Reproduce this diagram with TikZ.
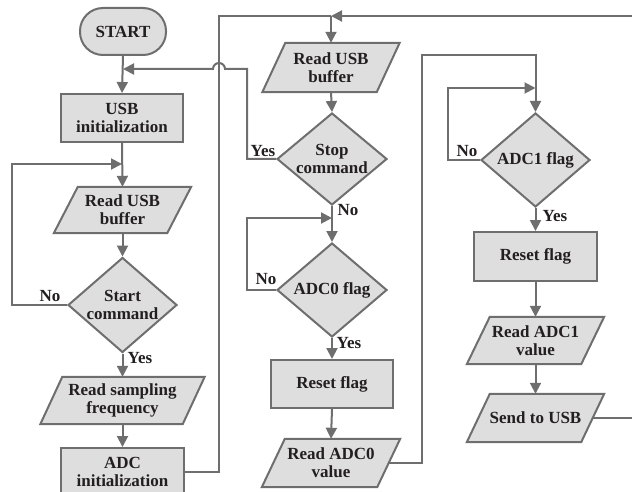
\documentclass[tikz,border=0pt]{standalone}
\usepackage{fontspec}
\setmainfont{Liberation Serif}
\newfontfamily\figfont{Liberation Serif}[BoldFont={Liberation Serif Bold}]
\usetikzlibrary{arrows.meta,shapes.geometric,backgrounds}
\definecolor{lc}{HTML}{6E6E6E}
\definecolor{fc}{HTML}{DEDEDE}
\definecolor{tc}{HTML}{231F20}
\newcommand\iopara[2]{%
  \draw[shapeline] ([xshift=#2]#1.north west) -- ([xshift=#2]#1.north east)
    -- ([xshift=-#2]#1.south east) -- ([xshift=-#2]#1.south west) -- cycle;}
\tikzset{
  txt/.style={font=\figfont\fontsize{17}{18}\selectfont\bfseries, text=tc, align=center},
  shapeline/.style={draw=lc, fill=fc, line width=2pt, line join=miter},
  procbox/.style={txt, rectangle, shapeline, inner sep=0pt},
  termbox/.style={txt, rectangle, rounded corners=23pt, shapeline, inner sep=0pt},
  iobox/.style={txt, rectangle, inner sep=0pt},
  decbox/.style={txt, diamond, shapeline, inner sep=0pt, aspect=1.15},
  conn/.style={draw=lc, line width=2pt},
  arr/.style={conn, -{Triangle[length=11pt,width=11pt]}},
  lab/.style={txt}
}
\begin{document}
\begin{tikzpicture}[x=1pt,y=-1pt]
\useasboundingbox (0,0) rectangle (632,492);
\clip (0,0) rectangle (632,492);
% column 1
\node[termbox, minimum width=86pt, minimum height=47pt] (start) at (123,31.5) {START};
\node[procbox, minimum width=122pt, minimum height=48pt] (usbinit) at (122,118) {USB\\initialization};
\node[iobox, minimum width=113pt, minimum height=46pt] (rb1) at (122.5,210) {Read USB\\buffer};
\node[decbox, minimum width=109pt, minimum height=95pt] (sc) at (122.5,305) {Start\\command};
\node[iobox, minimum width=142pt, minimum height=47pt] (rsf) at (122.5,400.5) {Read sampling\\frequency};
\node[procbox, minimum width=123pt, minimum height=48pt] (adcinit) at (122.5,472) {ADC\\initialization};
% column 2
\node[iobox, minimum width=114pt, minimum height=49pt] (rb2) at (331,67.5) {Read USB\\buffer};
\node[decbox, minimum width=110pt, minimum height=92pt] (stop) at (332,159) {Stop\\command};
\node[decbox, minimum width=110pt, minimum height=94pt] (adc0) at (332,290) {ADC0 flag};
\node[procbox, minimum width=122pt, minimum height=48pt] (rf1) at (332,384) {Reset flag};
\node[iobox, minimum width=115pt, minimum height=48pt] (ra0) at (331,463) {Read ADC0\\value};
% column 3
\node[decbox, minimum width=109pt, minimum height=94pt] (adc1) at (535.5,160) {ADC1 flag};
\node[procbox, minimum width=123pt, minimum height=49pt] (rf2) at (535.5,256.5) {Reset flag};
\node[iobox, minimum width=114pt, minimum height=47pt] (ra1) at (535.5,340.5) {Read ADC1\\value};
\node[iobox, minimum width=114pt, minimum height=48pt] (send) at (535.5,418) {Send to USB};
\begin{scope}[on background layer]
\iopara{rb1}{12pt}
\iopara{rsf}{11pt}
\iopara{rb2}{11.5pt}
\iopara{ra0}{11.5pt}
\iopara{ra1}{11.5pt}
\iopara{send}{11.5pt}
\end{scope}
% helper coordinates
\coordinate (yturn) at (247,69);
\coordinate (hop) at (219,69);
\coordinate (j1) at (start.south |- yturn);
\coordinate (nl1) at (12,164);
\coordinate (j2) at (usbinit.south |- nl1);
\coordinate (tl) at (219,16);
\coordinate (tr) at (645,16);
\coordinate (j3) at (rb2.north |- tl);
\coordinate (nl2) at (247,218);
\coordinate (j4) at (stop.south |- nl2);
\coordinate (tc2) at (422,55);
\coordinate (nl3) at (448,88);
\coordinate (j5) at (adc1.north |- nl3);
% connectors column 1
\draw[arr] (start.south) -- (usbinit.north);
\draw[arr] (usbinit.south) -- (rb1.north);
\draw[arr] (rb1.south) -- (sc.north);
\draw[arr] (sc.south) -- (rsf.north);
\draw[arr] (rsf.south) -- (adcinit.north);
\draw[arr] (sc.west) -| (nl1) -- (j2);
\draw[conn] (adcinit.east) -| (tl) -- (j3);
\draw[arr] (j3) -- (rb2.north);
\draw[arr] (send.east) -| (tr) -- (j3);
% column 2
\draw[arr] (rb2.south) -- (stop.north);
\draw[arr] (stop.west) -| (yturn) -- ([xshift=6pt]hop) arc[start angle=0, end angle=180, radius=6pt] -- (j1);
\draw[arr] (stop.south) -- (adc0.north);
\draw[arr] (adc0.west) -| (nl2) -- (j4);
\draw[arr] (adc0.south) -- (rf1.north);
\draw[arr] (rf1.south) -- (ra0.north);
\draw[arr] (ra0.east) -| (tc2) -| (adc1.north);
% column 3
\draw[arr] (adc1.west) -| (nl3) -- (j5);
\draw[arr] (adc1.south) -- (rf2.north);
\draw[arr] (rf2.south) -- (ra1.north);
\draw[arr] (ra1.south) -- (send.north);
% labels
\node[lab] (l1) at (50,296) {No};
\node[lab] (l2) at (140,358) {Yes};
\node[lab] (l3) at (263,151) {Yes};
\node[lab] (l4) at (348,210) {No};
\node[lab] (l5) at (266,279) {No};
\node[lab] (l6) at (349,343) {Yes};
\node[lab] (l7) at (467,151) {No};
\node[lab] (l8) at (555,216) {Yes};
\end{tikzpicture}
\end{document}
